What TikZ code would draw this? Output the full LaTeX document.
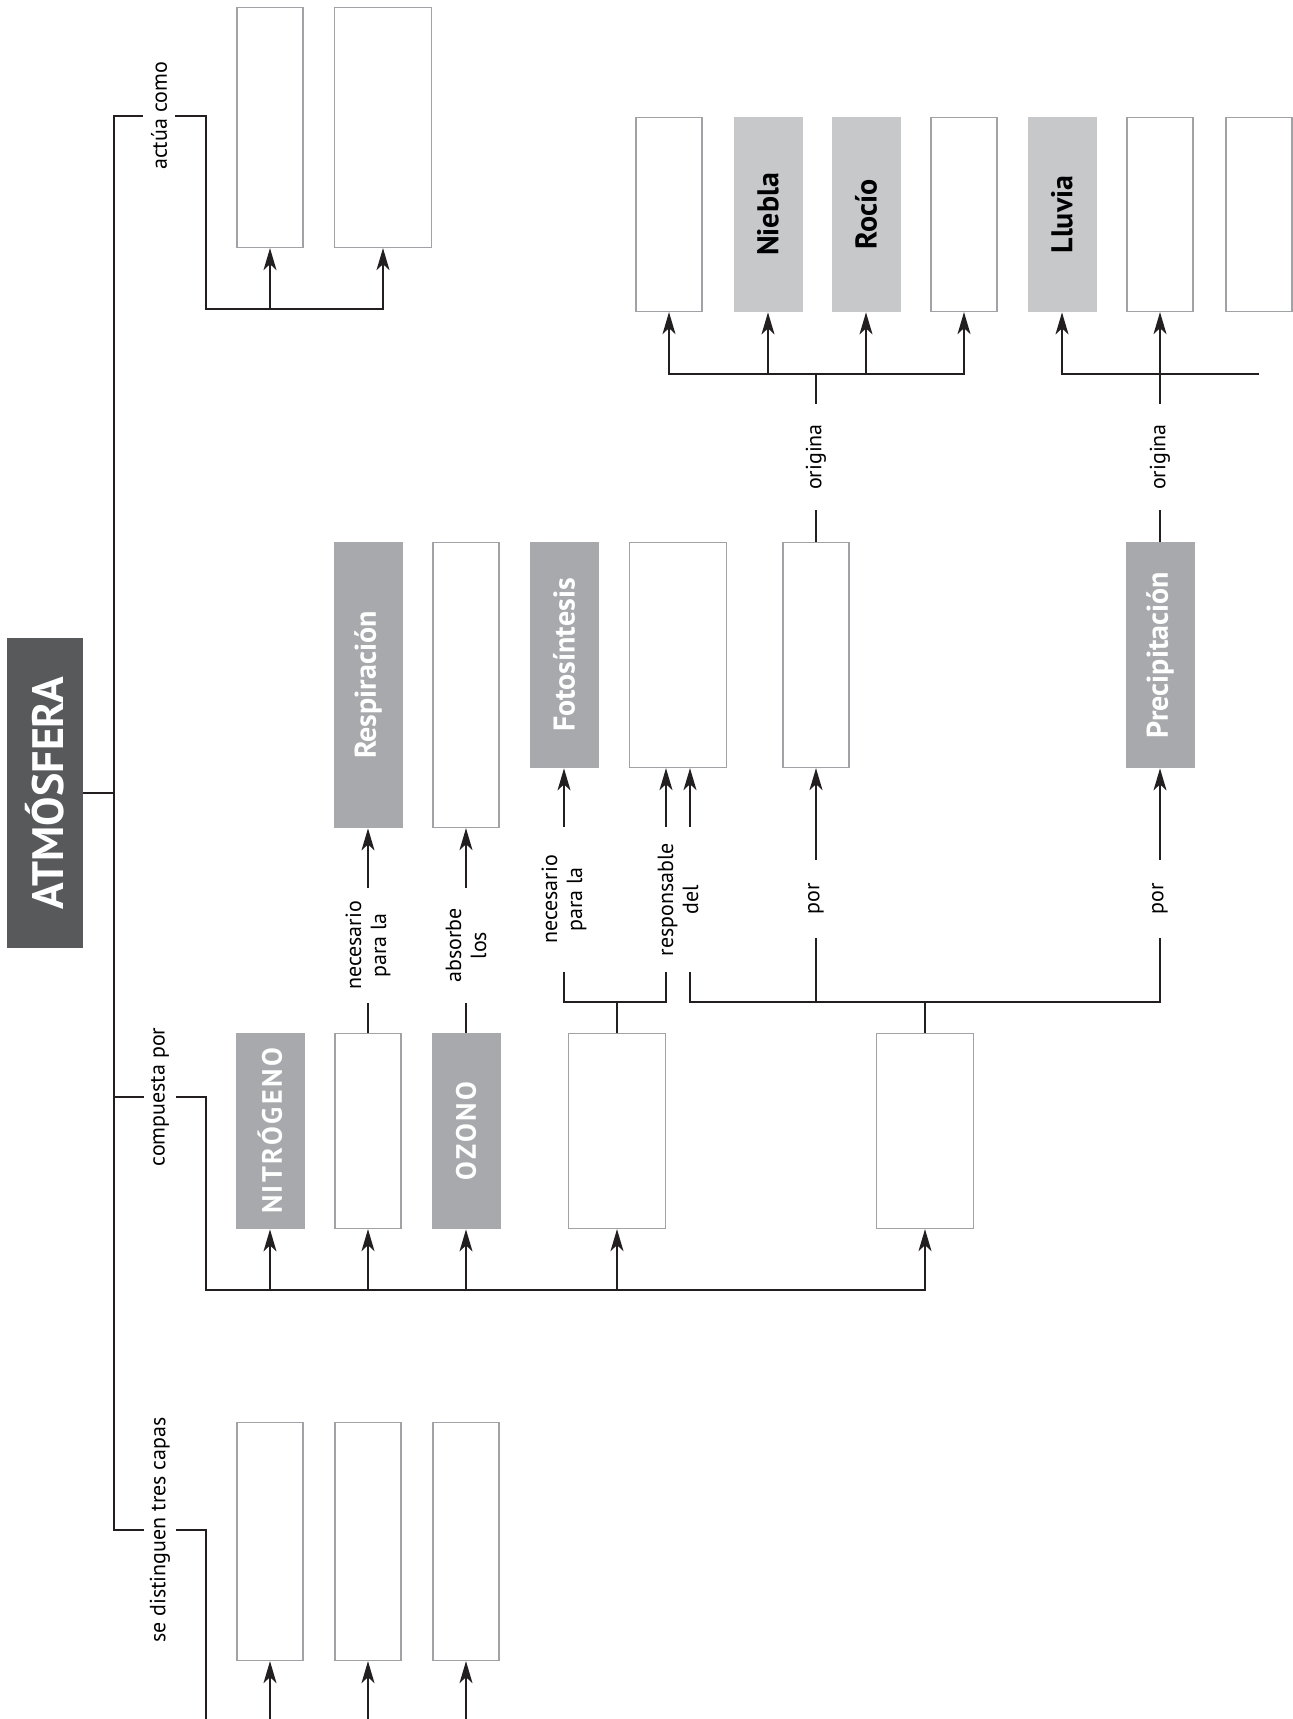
\documentclass[tikz,border=0pt]{standalone}
\usepackage{fontspec}
\setmainfont{PT Sans}
\usetikzlibrary{arrows.meta}
\newlength\px
\setlength\px{0.5pt}
\definecolor{atmgray}{HTML}{58595B}
\definecolor{midgray}{HTML}{A7A9AC}
\definecolor{palegray}{HTML}{C7C8CA}
\definecolor{boxline}{HTML}{A0A2A5}
\definecolor{linecol}{HTML}{231F20}
\tikzset{
  every node/.style={rotate=90, inner sep=0pt},
  blank/.style={draw=boxline, line width=0.65pt, fill=white},
  dark/.style={fill=midgray, text=white, font=\fontsize{15}{17}\selectfont\bfseries},
  caps/.style={fill=midgray, text=white, font=\fontsize{14}{16}\selectfont\bfseries\addfontfeatures{LetterSpace=9}},
  pale/.style={fill=palegray, text=black, font=\fontsize{15}{17}\selectfont\bfseries},
  lbl/.style={font=\fontsize{11}{12.5}\selectfont, align=center},
  narrow/.style={minimum height=66\px},
  thick/.style={minimum height=69\px},
  wide/.style={minimum height=97\px},
  link/.style={draw=linecol, line width=0.75pt},
  arr/.style={link, -{Stealth[length=11pt, width=6.5pt, inset=3pt]}}
}
\begin{document}
\begin{tikzpicture}[x=0.5pt, y=-0.5pt]
\useasboundingbox (0,0) rectangle (1293,1719);
\fill[white] (0,0) rectangle (1293,1719);
\clip (0,0) rectangle (1293,1719);

\node[fill=atmgray, text=white, font=\fontsize{22}{24}\selectfont\bfseries, minimum width=310\px, minimum height=76\px] (atm) at (45,793) {ATMÓSFERA};

\node[lbl, minimum height=32\px] (lact) at (159,116) {actúa como};
\node[lbl, minimum height=32\px] (lcomp) at (160,1097) {compuesta por};
\node[lbl, minimum height=32\px] (lsep) at (160,1530) {se distinguen tres capas};

\node[blank, narrow, minimum width=240\px] (A1) at (270,127.5) {};
\node[blank, wide, minimum width=240\px] (A2) at (383,127.5) {};

\node[blank, narrow, minimum width=194\px] (W1) at (669,214.5) {};
\node[pale, thick, minimum width=195\px] (Nie) at (768,214.5) {Niebla};
\node[pale, thick, minimum width=195\px] (Roc) at (866,214.5) {Rocío};
\node[blank, narrow, minimum width=194\px] (W4) at (964,214.5) {};
\node[pale, thick, minimum width=195\px] (Llu) at (1062,214.5) {Lluvia};
\node[blank, narrow, minimum width=194\px] (W6) at (1160,214.5) {};
\node[blank, narrow, minimum width=194\px] (W7) at (1259,214.5) {};

\node[dark, thick, minimum width=286\px] (Resp) at (368,685) {Respiración};
\node[blank, narrow, minimum width=285\px] (Abs) at (466,685) {};
\node[dark, thick, minimum width=226\px] (Foto) at (564,655) {Fotosíntesis};
\node[blank, wide, minimum width=225\px] (Rd) at (678,655) {};
\node[blank, narrow, minimum width=225\px] (Por) at (816,655) {};
\node[dark, thick, minimum width=226\px] (Prec) at (1160,655) {Precipitación};

\node[lbl, minimum width=106\px] (lorig1) at (816,457) {origina};
\node[lbl, minimum width=106\px] (lorig2) at (1160,457) {origina};
\node[lbl, minimum width=115\px] (lresp) at (368,945.5) {necesario\\para la};
\node[lbl, minimum width=115\px] (labs) at (466,945.5) {absorbe\\los};
\node[lbl, minimum width=145\px] (lfoto) at (564,899.5) {necesario\\para la};
\node[lbl, minimum width=145\px] (lrd) at (678,899.5) {responsable\\del};
\node[lbl, minimum width=77\px] (lpor1) at (816,899) {por};
\node[lbl, minimum width=77\px] (lpor2) at (1160,899) {por};

\node[caps, thick, minimum width=196\px] (N1) at (270,1131) {NITRÓGENO};
\node[blank, narrow, minimum width=195\px] (N2) at (368,1131) {};
\node[caps, thick, minimum width=196\px] (N3) at (466,1131) {OZONO};
\node[blank, wide, minimum width=195\px] (N4) at (617,1131) {};
\node[blank, wide, minimum width=195\px] (N5) at (925,1131) {};

\node[blank, narrow, minimum width=238\px] (S1) at (270,1541.5) {};
\node[blank, narrow, minimum width=238\px] (S2) at (368,1541.5) {};
\node[blank, narrow, minimum width=238\px] (S3) at (466,1541.5) {};

\coordinate (tA) at (114,116);
\coordinate (tS) at (114,1530);
\coordinate (cA) at (206,309);
\coordinate (cC) at (206,1290);
\coordinate (cS) at (206,1770);
\coordinate (k1) at (617,1002);
\coordinate (k2) at (925,1002);
\coordinate (o1) at (816,374);
\coordinate (o2) at (1160,374);

\draw[link] (lact) -- (tA) -- (tS) -- (lsep);
\draw[link] (atm) -- (atm -| tA);
\draw[link] (lcomp -| tA) -- (lcomp);

\draw[arr] (lact) -| (cA) -| (A2);
\draw[arr] (cA -| A1) -- (A1);

\draw[arr] (lcomp) -| (cC) -| (N5);
\foreach \b in {N1,N2,N3,N4}
  \draw[arr] (cC -| \b) -- (\b);

\draw[link] (lsep) -| (cS) -- (cS -| S3);
\foreach \b in {S1,S2,S3}
  \draw[arr] (cS -| \b) -- (\b);

\draw[link] (N2) -- (lresp);
\draw[arr] (lresp) -- (Resp);
\draw[link] (N3) -- (labs);
\draw[arr] (labs) -- (Abs);

\draw[link] (N4) -- (k1);
\draw[link] (lfoto) |- (k1) -| ([xshift=-6pt]lrd.west);
\draw[arr] (lfoto) -- (Foto);
\draw[arr] ([xshift=-6pt]lrd.east) -- ([xshift=-6pt]lrd.east |- Rd.west);
\draw[arr] ([xshift=6pt]lrd.east) -- ([xshift=6pt]lrd.east |- Rd.west);

\draw[link] (N5) -- (k2);
\draw[link] ([xshift=6pt]lrd.west) |- (k2) -| (lpor2);
\draw[link] (k2 -| lpor1) -- (lpor1);
\draw[arr] (lpor1) -- (Por);
\draw[arr] (lpor2) -- (Prec);

\draw[link] (Por) -- (lorig1);
\draw[link] (Prec) -- (lorig2);
\draw[link] (lorig1) -- (o1);
\draw[arr] (o1) -| (W1);
\draw[arr] (o1) -| (W4);
\foreach \b in {Nie,Roc}
  \draw[arr] (o1 -| \b) -- (\b);
\draw[arr] (lorig2) -- (W6);
\draw[arr] (o2 -| W7) -| (Llu);
\end{tikzpicture}
\end{document}
